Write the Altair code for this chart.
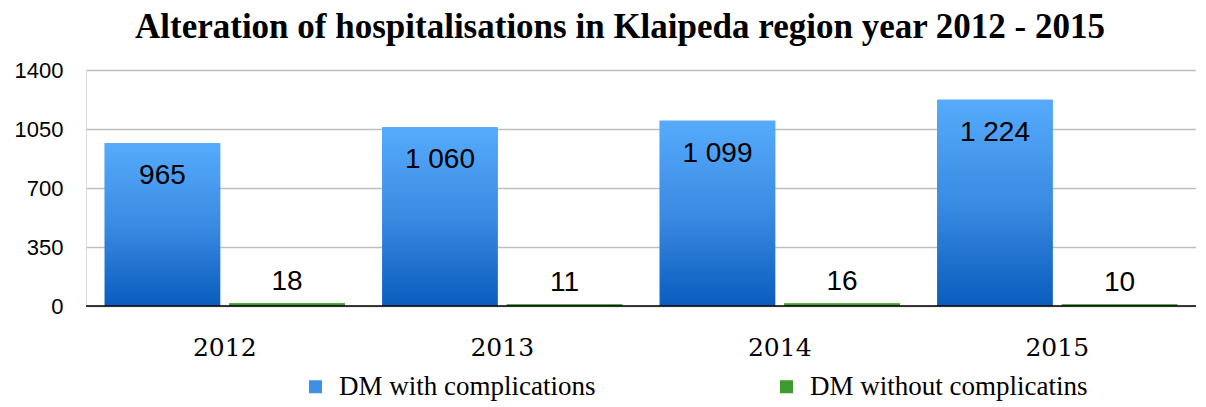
import altair as alt
import pandas as pd

years = ["2012", "2013", "2014", "2015"]
with_comp = [965, 1060, 1099, 1224]
without_comp = [18, 11, 16, 10]
series = ["DM with complications", "DM without complicatins"]
y_ticks = [0, 350, 700, 1050, 1400]
title_text = "Alteration of hospitalisations in Klaipeda region year 2012 - 2015"


def fmt(v):
    return f"{v:,}".replace(",", " ")


rows = []
for i, yr in enumerate(years):
    rows.append({"year": yr, "series": series[0], "value": with_comp[i], "label": fmt(with_comp[i])})
    rows.append({"year": yr, "series": series[1], "value": without_comp[i], "label": fmt(without_comp[i])})
df = pd.DataFrame(rows)

blue_grad = {
    "gradient": "linear", "x1": 0, "y1": 0, "x2": 0, "y2": 1,
    "stops": [{"offset": 0, "color": "#56ABFC"}, {"offset": 0.5, "color": "#3A8BE2"}, {"offset": 1, "color": "#0A5CBE"}],
}
green_grad = {
    "gradient": "linear", "x1": 0, "y1": 0, "x2": 0, "y2": 1,
    "stops": [{"offset": 0, "color": "#5DB846"}, {"offset": 1, "color": "#2E7D22"}],
}

x_enc = alt.X(
    "year:N", sort=years,
    scale=alt.Scale(paddingInner=0, paddingOuter=0),
    axis=alt.Axis(title=None, labelAngle=0, labelFont="DejaVu Serif", labelFontSize=25,
                  labelColor="black", labelPadding=29, ticks=False, domain=False, grid=False),
)
xo_enc = alt.XOffset("series:N", sort=series, scale=alt.Scale(paddingInner=0.073, paddingOuter=0.15))
y_enc = alt.Y(
    "value:Q", scale=alt.Scale(domain=[0, 1400], nice=False),
    axis=alt.Axis(values=y_ticks, format="d", title=None, labelFont="Liberation Sans", labelFontSize=22,
                  labelColor="black", labelPadding=23, ticks=False, domain=False,
                  gridColor="#BFBFBF", gridWidth=1.5),
)

base = alt.Chart(df).encode(x=x_enc, xOffset=xo_enc, y=y_enc)

legend_bars = base.mark_bar().encode(
    color=alt.Color(
        "series:N", sort=series,
        scale=alt.Scale(domain=series, range=["#3F8FE6", "#3E9A2D"]),
        legend=alt.Legend(
            title=None, orient="none", legendX=216, legendY=303, direction="horizontal",
            labelFont="Liberation Serif", labelFontSize=27, labelColor="black", labelLimit=600,
            symbolType="square", symbolSize=169, symbolStrokeWidth=0,
            columnPadding=177, labelOffset=10,
        ),
    )
)

blue_bars = base.transform_filter(alt.datum.series == series[0]).mark_bar(color=blue_grad)
green_bars = base.transform_filter(alt.datum.series == series[1]).mark_bar(color=green_grad)

blue_text = base.transform_filter(alt.datum.series == series[0]).mark_text(
    font="Liberation Sans", fontSize=28, color="black", baseline="middle", dy=33
).encode(text="label:N")
green_text = base.transform_filter(alt.datum.series == series[1]).mark_text(
    font="Liberation Sans", fontSize=28, color="black", baseline="middle", dy=-21
).encode(text="label:N")

zero_rule = alt.Chart(pd.DataFrame({"v": [0]})).mark_rule(color="black", strokeWidth=1.5).encode(y="v:Q")

chart = alt.layer(
    legend_bars, blue_bars, green_bars, zero_rule, blue_text, green_text
).properties(
    width=1110, height=236,
    autosize=alt.AutoSizeParams(type="none"),
    padding={"left": 78, "top": 62, "right": 0, "bottom": 98},
    title=alt.TitleParams(title_text, font="Liberation Serif", fontSize=35, fontWeight="bold",
                          color="black", anchor="middle", dx=-21, offset=14),
).configure_view(stroke=None).configure(background="white")

chart.save("out.html", embed_options={"renderer": "svg", "actions": False})
